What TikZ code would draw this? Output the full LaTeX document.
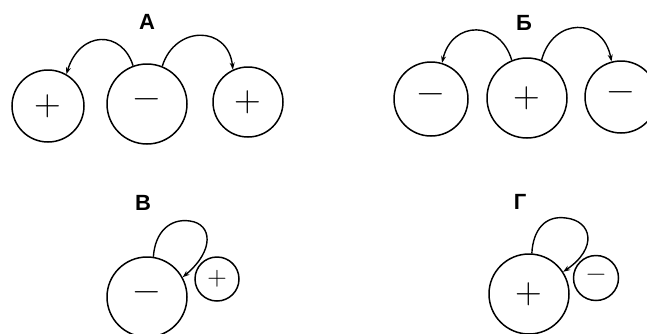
\documentclass[tikz,border=0pt]{standalone}
\usepackage{fontspec}
\newfontfamily\lblfont{Liberation Sans}
\newfontfamily\signfont{Latin Modern Roman}
\usetikzlibrary{arrows.meta}
\begin{document}
\begin{tikzpicture}[x=1pt,y=-1pt,
  ion/.style={circle,draw,line width=1.5pt,inner sep=0pt},
  bigsign/.style={font=\signfont\fontsize{37}{37}\selectfont},
  smallsign/.style={font=\signfont\fontsize{27}{27}\selectfont},
  lbl/.style={font=\lblfont\bfseries\fontsize{22}{22}\selectfont},
  jump/.style={line width=1.4pt,-{Stealth[length=7pt,width=5pt]}}]
\useasboundingbox (0,0) rectangle (647,333);
% Panel A
\node[lbl] (la) at (147,22) {А};
\node[ion,minimum size=72pt,bigsign] (a1) at (48,106) {+};
\node[ion,minimum size=80pt,bigsign] (a2) at (147,104) {−};
\node[ion,minimum size=70pt,bigsign] (a3) at (248,102) {+};
\draw[jump] (a2.110) .. controls (122,30) and (80,30) .. (a1.60);
\draw[jump] (a2.68) .. controls (175,25) and (228,25) .. (a3.115);
% Panel B (Б)
\node[lbl] (lb) at (524,23) {Б};
\node[ion,minimum size=74pt,bigsign] (b1) at (431,99) {−};
\node[ion,minimum size=80pt,bigsign] (b2) at (527,98) {+};
\node[ion,minimum size=72pt,bigsign] (b3) at (621,97) {−};
\draw[jump] (b2.112) .. controls (500,20) and (452,20) .. (b1.73);
\draw[jump] (b2.69) .. controls (553,17) and (603,17) .. (b3.105);
% Panel V (В)
\node[lbl] (lv) at (143,203) {В};
\node[ion,minimum size=80pt,bigsign] (v1) at (147,297) {−};
\node[ion,minimum size=44pt,smallsign] (v2) at (217,279) {+};
\draw[line width=1.4pt] (v1.81) .. controls (155,232) and (170,218) .. (190,221) coordinate (vtop);
\draw[jump] (vtop) .. controls (212,224) and (215,250) .. (v1.29);
% Panel G (Г)
\node[lbl] (lg) at (520,202) {Г};
\node[ion,minimum size=80pt,bigsign] (g1) at (529,294) {+};
\node[ion,minimum size=45pt,smallsign] (g2) at (596,278) {−};
\draw[line width=1.4pt] (g1.86) .. controls (533,230) and (545,215) .. (566,218) coordinate (gtop);
\draw[jump] (gtop) .. controls (592,221) and (598,248) .. (g1.33);
\end{tikzpicture}
\end{document}
